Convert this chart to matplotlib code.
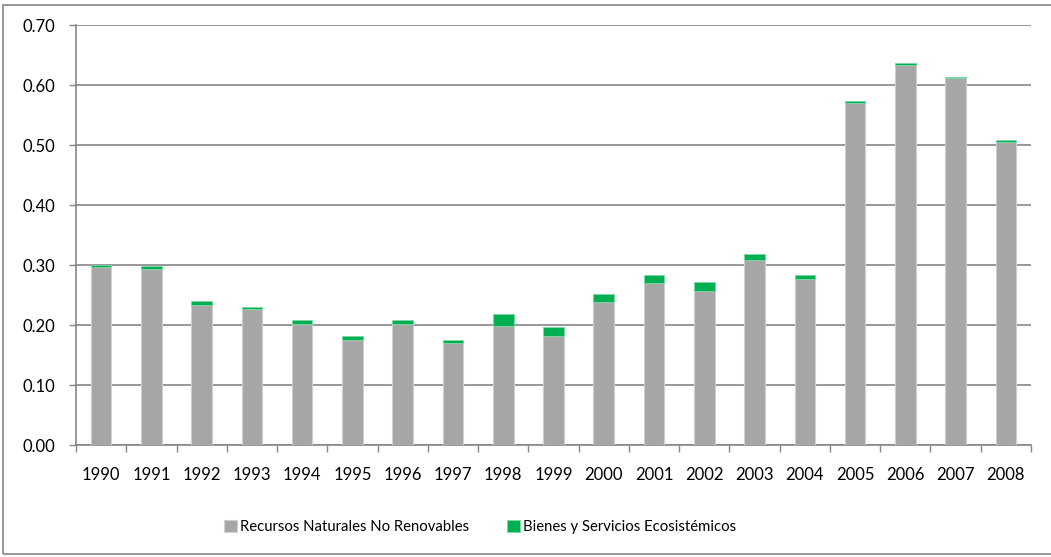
import matplotlib
matplotlib.use("Agg")
import matplotlib.pyplot as plt
from matplotlib.patches import Rectangle
from matplotlib.ticker import FixedLocator, NullFormatter

plt.rcParams['font.family'] = ['Lato', 'DejaVu Sans']

# Data
years = [str(y) for y in range(1990, 2009)]
recursos = [0.296, 0.293, 0.233, 0.226, 0.201, 0.175, 0.201, 0.170, 0.199, 0.182,
            0.238, 0.270, 0.257, 0.308, 0.277, 0.570, 0.633, 0.611, 0.505]
bienes = [0.004, 0.006, 0.007, 0.004, 0.007, 0.007, 0.007, 0.005, 0.019, 0.014,
          0.014, 0.014, 0.015, 0.010, 0.007, 0.004, 0.003, 0.002, 0.004]
labels = ["Recursos Naturales No Renovables", "Bienes y Servicios Ecosistémicos"]
y_ticks = [0.0, 0.1, 0.2, 0.3, 0.4, 0.5, 0.6, 0.7]

gray = "#A6A6A6"
green = "#00B050"
axis_col = "#868686"

fig = plt.figure(figsize=(10.51, 5.57), dpi=100)
ax = fig.add_axes([76 / 1051, 112 / 557, 955 / 1051, 420 / 557])

# outer chart frame (right edge runs past the image)
fig.patches.append(Rectangle((3 / 1051, 3 / 557), 1.1, 549.5 / 557, transform=fig.transFigure,
                             fill=False, edgecolor=axis_col, linewidth=1.2))

x = list(range(len(years)))
ax.bar(x, recursos, width=0.41, color=gray, edgecolor="#D0D0D0", linewidth=0.8,
       label=labels[0], zorder=3)
ax.bar(x, bienes, width=0.41, bottom=recursos, color=green, edgecolor="#7FD8A8",
       linewidth=0.6, label=labels[1], zorder=3)

ax.set_xlim(-0.5, len(years) - 0.5)
ax.set_ylim(0, 0.7)
ax.set_yticks(y_ticks)
ax.set_yticklabels([f"{v:.2f}" for v in y_ticks])
ax.set_xticks(x)
ax.set_xticklabels(years)
ax.xaxis.set_minor_locator(FixedLocator([i - 0.5 for i in range(len(years) + 1)]))
ax.xaxis.set_minor_formatter(NullFormatter())

ax.tick_params(axis="x", which="major", length=0, pad=16, labelsize=12)
ax.tick_params(axis="x", which="minor", length=5, color=axis_col, width=1)
ax.tick_params(axis="y", length=5, color=axis_col, width=1, pad=10, labelsize=12)

ax.grid(axis="y", color=axis_col, linewidth=1.2, zorder=0)
ax.set_axisbelow(True)
for side in ["top", "right"]:
    ax.spines[side].set_visible(False)
for side in ["left", "bottom"]:
    ax.spines[side].set_color(axis_col)
    ax.spines[side].set_linewidth(1.2)

fig.legend(loc="center", bbox_to_anchor=(480 / 1051, 30 / 557), ncol=2, frameon=False,
           fontsize=10.7, handlelength=0.85, handleheight=0.85, handletextpad=0.2,
           columnspacing=2.6)

fig.savefig("out.png", dpi=100)
